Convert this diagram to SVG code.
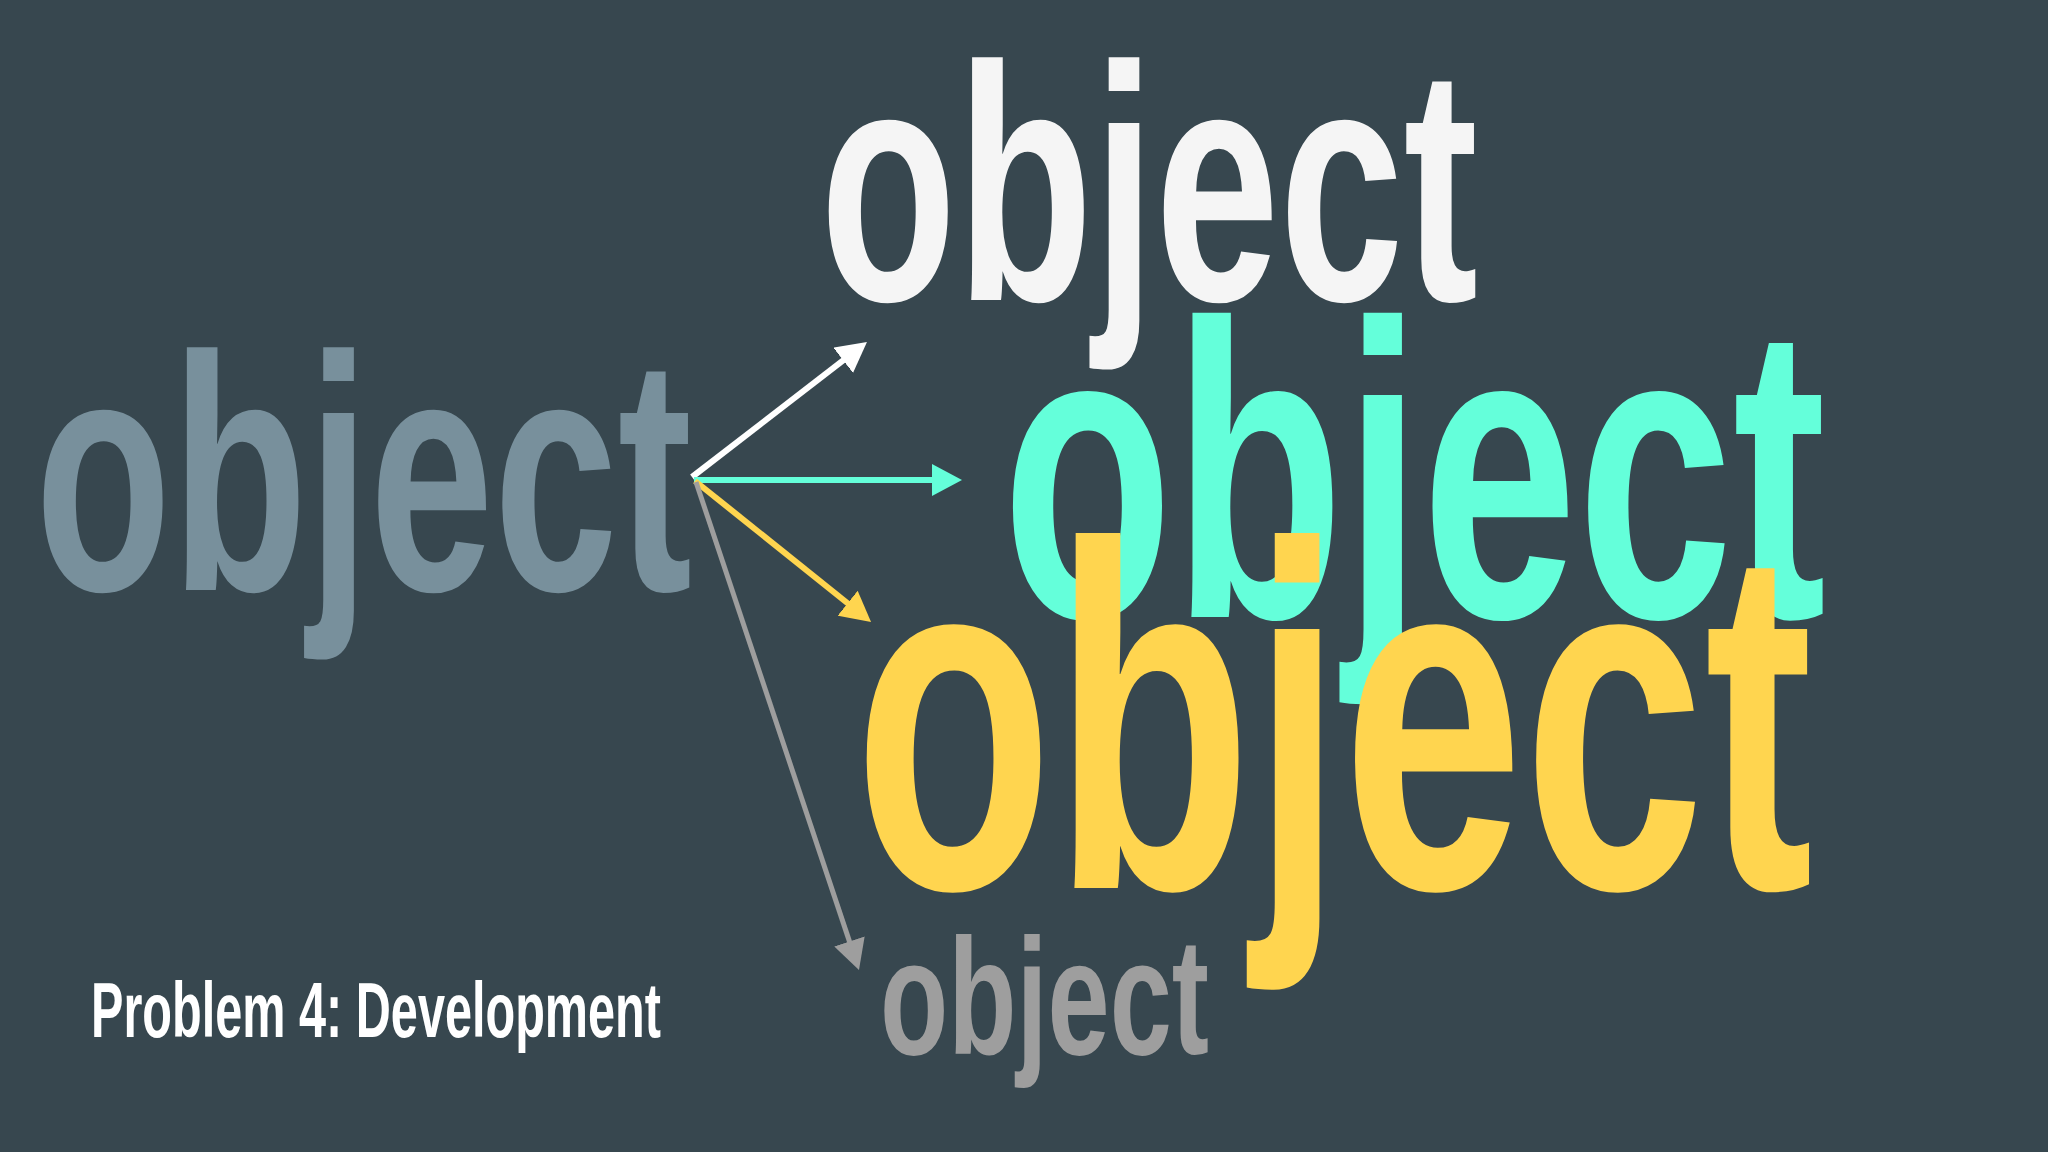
<svg xmlns="http://www.w3.org/2000/svg" width="2048" height="1152" viewBox="0 0 2048 1152">
  <style>
    .w { font-family: "Liberation Sans", Arial, sans-serif; font-weight: 700; }
  </style>
  <defs>
    <marker id="hWhite" markerUnits="userSpaceOnUse" markerWidth="32" markerHeight="32" refX="2" refY="16" orient="auto"><path d="M0,0 L30,16 L0,32 z" fill="#FFFFFF"/></marker>
    <marker id="hTeal" markerUnits="userSpaceOnUse" markerWidth="32" markerHeight="32" refX="2" refY="16" orient="auto"><path d="M0,0 L30,16 L0,32 z" fill="#64FFDA"/></marker>
    <marker id="hYellow" markerUnits="userSpaceOnUse" markerWidth="32" markerHeight="32" refX="2" refY="16" orient="auto"><path d="M0,0 L30,16 L0,32 z" fill="#FFD54F"/></marker>
    <marker id="hGray" markerUnits="userSpaceOnUse" markerWidth="32" markerHeight="32" refX="2" refY="16" orient="auto"><path d="M0,0 L30,16 L0,32 z" fill="#9E9E9E"/></marker>
  </defs>
  <rect x="0" y="0" width="2048" height="1152" fill="#37474F"/>

  <g id="source-object">
    <text class="w" x="35" y="590" font-size="335" textLength="657" lengthAdjust="spacingAndGlyphs" fill="#78909C">object</text>
  </g>
  <g id="object-white">
    <text class="w" x="820" y="300" font-size="335" textLength="658" lengthAdjust="spacingAndGlyphs" fill="#F5F5F5">object</text>
  </g>
  <g id="object-teal">
    <text class="w" x="1002" y="617" font-size="420" textLength="824" lengthAdjust="spacingAndGlyphs" fill="#64FFDA">object</text>
  </g>
  <g id="object-yellow">
    <text class="w" x="854" y="888" font-size="490" textLength="959" lengthAdjust="spacingAndGlyphs" fill="#FFD54F">object</text>
  </g>
  <g id="object-gray">
    <text class="w" x="880" y="1054" font-size="166" textLength="329" lengthAdjust="spacingAndGlyphs" fill="#9E9E9E">object</text>
  </g>
  <g id="title">
    <text class="w" x="91" y="1037" font-size="78" textLength="570" lengthAdjust="spacingAndGlyphs" fill="#FFFFFF">Problem 4: Development</text>
  </g>

  <g id="connectors" fill="none" stroke-width="6">
    <line x1="692" y1="477" x2="844.8" y2="359.1" stroke="#FFFFFF" marker-end="url(#hWhite)"/>
    <line x1="694" y1="480" x2="934" y2="480" stroke="#64FFDA" marker-end="url(#hTeal)"/>
    <line x1="695" y1="481" x2="849.2" y2="604.5" stroke="#FFD54F" marker-end="url(#hYellow)"/>
    <line x1="696" y1="482" x2="850.1" y2="943.4" stroke="#9E9E9E" stroke-width="5" marker-end="url(#hGray)"/>
  </g>
</svg>
